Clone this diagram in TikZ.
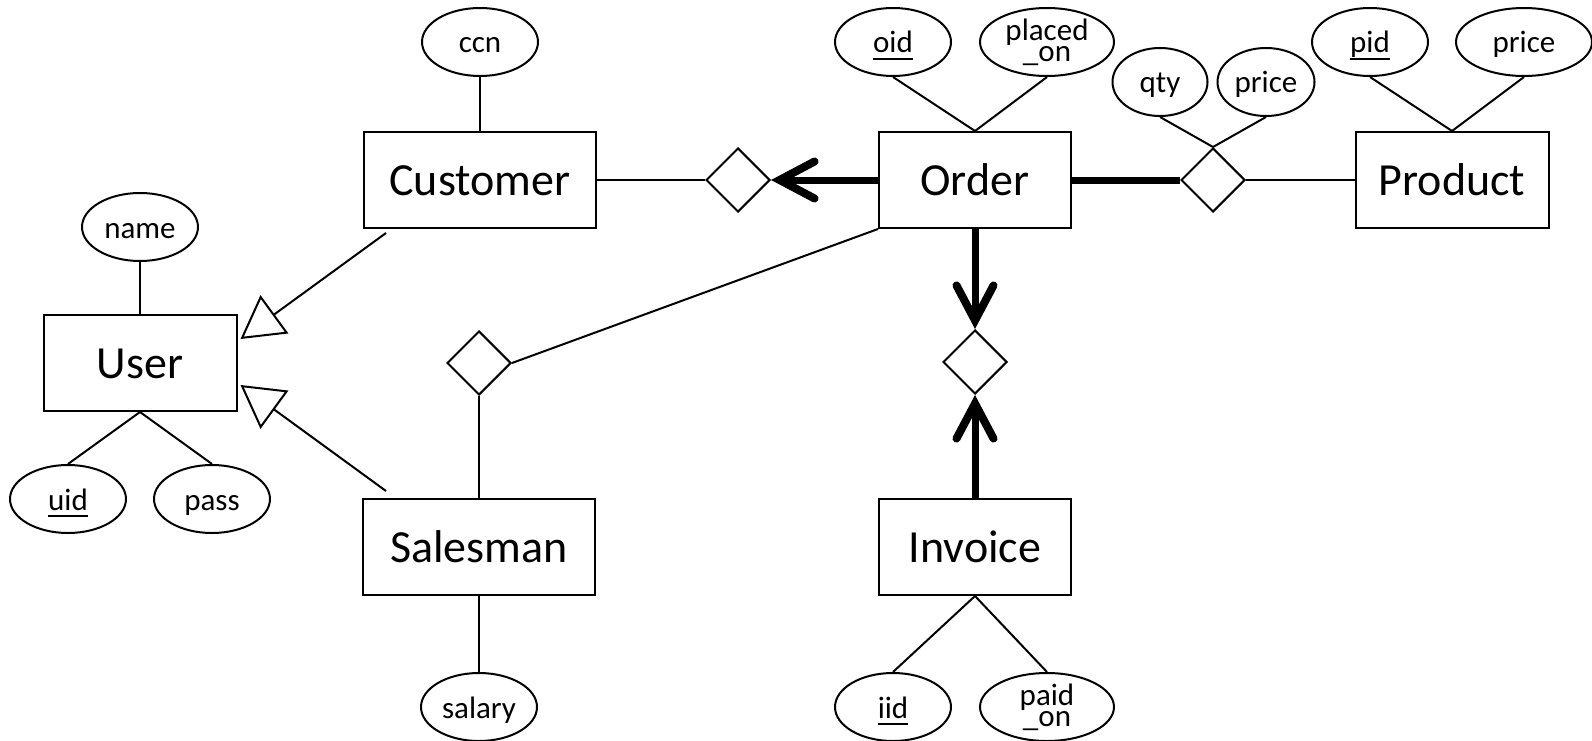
\documentclass[tikz,border=0pt]{standalone}
\usepackage{fontspec}
\setmainfont{Carlito}
\usetikzlibrary{shapes.geometric,arrows.meta,calc}

% key attribute: text with a solid rule just under its baseline
\newcommand\keyattr[1]{\setbox0\hbox{#1}\rlap{\rule[-7pt]{\wd0}{2.4pt}}\box0}

\tikzset{
  thin line/.style={line width=2pt},
  entity/.style={draw, rectangle, thin line, inner sep=0pt,
    minimum width=192pt, minimum height=96pt,
    font=\fontsize{46}{50}\selectfont, text height=30pt, text depth=0pt},
  attrbase/.style={draw, ellipse, thin line, inner sep=0pt,
    minimum width=116pt, minimum height=68pt},
  attr/.style={attrbase, font=\fontsize{31}{36}\selectfont,
    text height=22pt, text depth=0pt},
  attrtwo/.style={attrbase, minimum width=134pt, align=center,
    font=\fontsize{31}{20}\selectfont},
  rel/.style={draw, diamond, thin line, inner sep=0pt,
    minimum width=64pt, minimum height=64pt},
  heavy/.style={line width=7pt},
  barb/.style={-{Straight Barb[length=35pt, width=37pt, line width=8pt,
    line cap=round, line join=miter]}},
  isa/.style={thin line, -{Triangle[open, length=42pt, width=47pt]}}
}

\begin{document}
\begin{tikzpicture}[x=1pt, y=-1pt]
  \useasboundingbox[fill=white] (0,0) rectangle (1592,741);

  % entities
  \node[entity, minimum width=193pt] (user) at (140,363) {User};
  \node[entity, minimum width=232pt] (customer) at (480,180) {Customer};
  \node[entity, minimum width=232pt] (salesman) at (479,547) {Salesman};
  \node[entity] (order) at (975,180) {Order};
  \node[entity] (invoice) at (975,547) {Invoice};
  \node[entity, minimum width=193pt] (product) at (1452,180) {Product};

  % relationships
  \node[rel] (places) at (738,180) {};
  \node[rel] (sells) at (479,363) {};
  \node[rel] (contains) at (1213,180) {};
  \node[rel] (bills) at (975,362) {};

  % attributes
  \node[attr] (name) at (140,227) {name};
  \node[attr] (uid) at (68,499) {\keyattr{uid}};
  \node[attr] (pass) at (212,499) {pass};
  \node[attr] (ccn) at (480,42) {ccn};
  \node[attr] (salary) at (479,707) {salary};
  \node[attr] (oid) at (893,42) {\keyattr{oid}};
  \node[attrtwo] (placedon) at (1047,42) {placed\\\_on};
  \node[attr, minimum width=95pt] (qty) at (1160,82) {qty};
  \node[attr, minimum width=97pt] (lineprice) at (1266,82) {price};
  \node[attr] (pid) at (1370,42) {\keyattr{pid}};
  \node[attr, minimum width=136pt] (price) at (1524,42) {price};
  \node[attr] (iid) at (893,707) {\keyattr{iid}};
  \node[attrtwo] (paidon) at (1047,707) {paid\\\_on};

  % attribute links
  \draw[thin line] (name.south) -- (user.north);
  \draw[thin line] (uid.north) -- (user.south);
  \draw[thin line] (pass.north) -- (user.south);
  \draw[thin line] (ccn.south) -- (customer.north);
  \draw[thin line] (salary.north) -- (salesman.south);
  \draw[thin line] (oid.south) -- (order.north);
  \draw[thin line] (placedon.south) -- (order.north);
  \draw[thin line] (qty.south) -- (contains.north);
  \draw[thin line] (lineprice.south) -- (contains.north);
  \draw[thin line] (pid.south) -- (product.north);
  \draw[thin line] (price.south) -- (product.north);
  \draw[thin line] (iid.north) -- (invoice.south);
  \draw[thin line] (paidon.north) -- (invoice.south);

  % specialisation of User
  \coordinate (custfoot) at ($(customer.south west)+(23,4)$);
  \coordinate (salesfoot) at ($(salesman.north west)+(24,-7)$);
  \coordinate (isatop) at ($(user.east)+(3,-24)$);
  \coordinate (isabottom) at ($(user.east)+(3,22)$);
  \draw[isa] (custfoot) -- (isatop);
  \draw[isa] (salesfoot) -- (isabottom);

  % relationship links
  \draw[thin line] (customer.east) -- (places.west);
  \draw[heavy, barb] (order.west) -- (places.east);
  \draw[thin line] (order.south west) -- (sells.east);
  \draw[thin line] (sells.south) -- (salesman.north);
  \draw[heavy] (order.east) -- (contains.west);
  \draw[thin line] (contains.east) -- (product.west);
  \draw[heavy, barb] (order.south) -- (bills.north);
  \draw[heavy, barb] (invoice.north) -- (bills.south);
\end{tikzpicture}
\end{document}
